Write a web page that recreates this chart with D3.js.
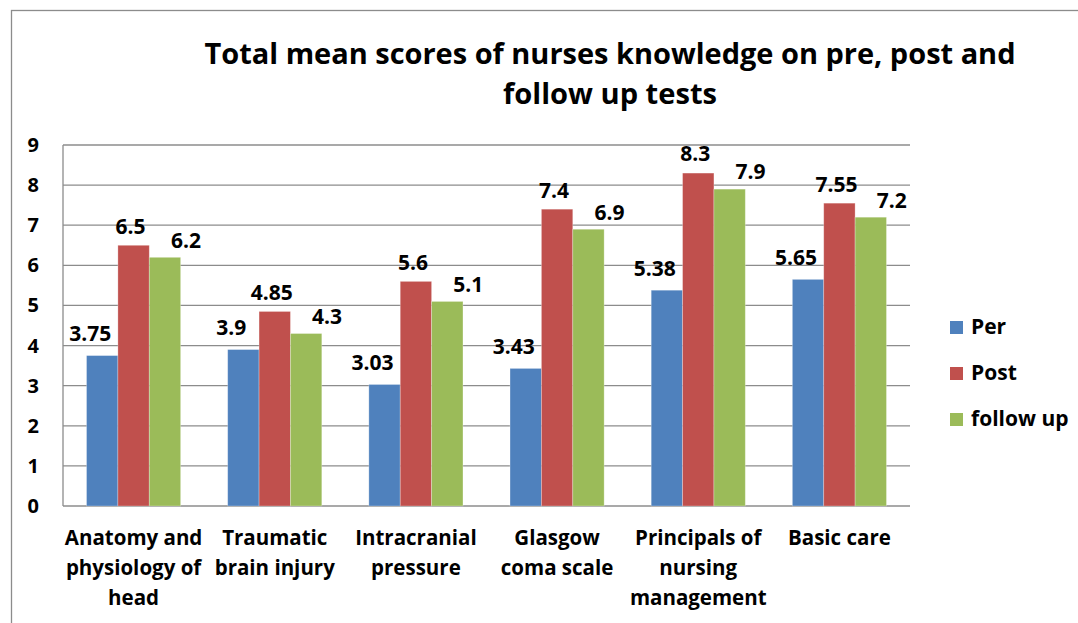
<!DOCTYPE html>
<html>
<head>
<meta charset="utf-8">
<script src="https://cdn.jsdelivr.net/npm/d3@7"></script>
<style>
  body { margin: 0; background: #fff; }
  text { font-family: "Open Sans", sans-serif; font-weight: bold; fill: #000; }
</style>
</head>
<body>
<div id="container"></div>
<script>
// données du graphique
const categories = [
  ["Anatomy and", "physiology of", "head"],
  ["Traumatic", "brain injury"],
  ["Intracranial", "pressure"],
  ["Glasgow", "coma scale"],
  ["Principals of", "nursing", "management"],
  ["Basic care"]
]
const seriesNames = ["Per", "Post", "follow up"]
const perValues = [3.75, 3.9, 3.03, 3.43, 5.38, 5.65]
const postValues = [6.5, 4.85, 5.6, 7.4, 8.3, 7.55]
const followValues = [6.2, 4.3, 5.1, 6.9, 7.9, 7.2]
const yTicks = [0, 1, 2, 3, 4, 5, 6, 7, 8, 9]
const titleLines = ["Total mean scores of nurses knowledge on pre, post and", "follow up tests"]

const colors = ["#4F81BD", "#C0504D", "#9BBB59"]
// décalage des étiquettes (comme dans le graphique excel)
const labelShift = [{ dx: -12, dy: -22 }, { dx: -3, dy: -19 }, { dx: 21, dy: -17 }]

const W = 1078, H = 623
const plot = { left: 63, right: 910, top: 145, bottom: 506 }

const svg = d3.select("#container").append("svg")
  .attr("width", W)
  .attr("height", H)

// cadre
svg.append("rect")
  .attr("x", 11.5).attr("y", 10.5)
  .attr("width", 1200).attr("height", 800)
  .attr("fill", "none")
  .attr("stroke", "#8c8c8c")
  .attr("stroke-width", 1.3)

// titre
const titleWidths = [811, 214]
titleLines.forEach((t, i) => {
  svg.append("text")
    .attr("x", 610)
    .attr("y", 64 + i * 40)
    .attr("text-anchor", "middle")
    .attr("font-size", 29)
    .attr("textLength", titleWidths[i])
    .attr("lengthAdjust", "spacingAndGlyphs")
    .text(t)
})

const catKeys = categories.map(c => c.join(" "))
const x = d3.scaleBand()
  .domain(catKeys)
  .range([plot.left, plot.right])

const xs = d3.scaleBand()
  .domain(seriesNames)
  .range([0, x.bandwidth()])
  .paddingInner(0)
  .paddingOuter(0.75)

const y = d3.scaleLinear()
  .domain([0, 9])
  .range([plot.bottom, plot.top])

// grille
svg.append("g")
  .selectAll("line")
  .data(yTicks)
  .enter().append("line")
  .attr("x1", plot.left)
  .attr("x2", plot.right)
  .attr("y1", d => y(d))
  .attr("y2", d => y(d))
  .attr("stroke", "#8c8c8c")
  .attr("stroke-width", 1.3)

svg.append("line")
  .attr("x1", plot.left).attr("x2", plot.left)
  .attr("y1", y(9)).attr("y2", y(0))
  .attr("stroke", "#8c8c8c")
  .attr("stroke-width", 1.3)

// axe des ordonnées
svg.append("g")
  .selectAll("text")
  .data(yTicks)
  .enter().append("text")
  .attr("x", 39)
  .attr("y", d => y(d))
  .attr("dy", "0.35em")
  .attr("text-anchor", "end")
  .attr("font-size", 20)
  .text(d => d)

// barres
const allValues = [perValues, postValues, followValues]
allValues.forEach((vals, s) => {
  const g = svg.append("g").attr("class", "series" + s)
  g.selectAll("rect")
    .data(vals)
    .enter().append("rect")
    .attr("x", (d, i) => x(catKeys[i]) + xs(seriesNames[s]))
    .attr("width", xs.bandwidth())
    .attr("y", d => y(d))
    .attr("height", d => y(0) - y(d))
    .attr("fill", colors[s])
    .attr("stroke", "rgba(255,255,255,0.35)")
    .attr("stroke-width", 0.8)

  g.selectAll("text")
    .data(vals)
    .enter().append("text")
    .attr("x", (d, i) => x(catKeys[i]) + xs(seriesNames[s]) + xs.bandwidth() / 2 + labelShift[s].dx)
    .attr("y", d => y(d) + labelShift[s].dy)
    .attr("dy", "0.35em")
    .attr("text-anchor", "middle")
    .attr("font-size", 21)
    .text(d => d)
})

// étiquettes des catégories
categories.forEach((lines, i) => {
  const t = svg.append("text")
    .attr("text-anchor", "middle")
    .attr("font-size", 20.5)
  lines.forEach((l, j) => {
    t.append("tspan")
      .attr("x", x(catKeys[i]) + x.bandwidth() / 2)
      .attr("y", 545 + j * 30)
      .text(l)
  })
})

// légende
const legend = svg.append("g")
seriesNames.forEach((n, i) => {
  legend.append("rect")
    .attr("x", 950)
    .attr("y", 321 + i * 46)
    .attr("width", 13)
    .attr("height", 13)
    .attr("fill", colors[i])
  legend.append("text")
    .attr("x", 971)
    .attr("y", 327 + i * 46)
    .attr("dy", "0.35em")
    .attr("font-size", 21)
    .text(n)
})
</script>
</body>
</html>
